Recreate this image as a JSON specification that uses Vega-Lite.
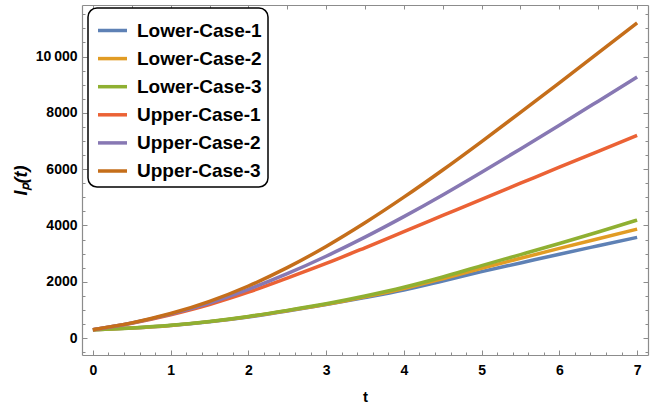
{
  "$schema": "https://vega.github.io/schema/vega-lite/v6.json",
  "autosize": "none",
  "width": 566,
  "height": 350,
  "padding": {"left": 82, "top": 5, "right": 13, "bottom": 53},
  "background": "white",
  "config": {
    "view": {"stroke": null},
    "font": "Liberation Sans",
    "axis": {
      "labelFont": "Liberation Sans",
      "labelFontWeight": "bold",
      "labelFontSize": 14,
      "labelColor": "black",
      "titleFont": "Liberation Sans",
      "titleFontWeight": "bold",
      "titleFontSize": 15,
      "titleColor": "black",
      "domainColor": "#8c8c8c",
      "domainWidth": 1.2,
      "tickColor": "#8c8c8c",
      "tickWidth": 1,
      "grid": false
    }
  },
  "data": {"values": [
    {"t":0,"s":"Lower-Case-1","v":300},{"t":0.5,"s":"Lower-Case-1","v":360},{"t":1,"s":"Lower-Case-1","v":450},{"t":1.5,"s":"Lower-Case-1","v":580},{"t":2,"s":"Lower-Case-1","v":750},{"t":2.5,"s":"Lower-Case-1","v":960},{"t":3,"s":"Lower-Case-1","v":1190},{"t":3.5,"s":"Lower-Case-1","v":1440},{"t":4,"s":"Lower-Case-1","v":1710},{"t":4.5,"s":"Lower-Case-1","v":2030},{"t":5,"s":"Lower-Case-1","v":2360},{"t":5.5,"s":"Lower-Case-1","v":2670},{"t":6,"s":"Lower-Case-1","v":2980},{"t":6.5,"s":"Lower-Case-1","v":3280},{"t":7,"s":"Lower-Case-1","v":3577},
    {"t":0,"s":"Lower-Case-2","v":300},{"t":0.5,"s":"Lower-Case-2","v":360},{"t":1,"s":"Lower-Case-2","v":450},{"t":1.5,"s":"Lower-Case-2","v":585},{"t":2,"s":"Lower-Case-2","v":760},{"t":2.5,"s":"Lower-Case-2","v":975},{"t":3,"s":"Lower-Case-2","v":1200},{"t":3.5,"s":"Lower-Case-2","v":1465},{"t":4,"s":"Lower-Case-2","v":1760},{"t":4.5,"s":"Lower-Case-2","v":2110},{"t":5,"s":"Lower-Case-2","v":2480},{"t":5.5,"s":"Lower-Case-2","v":2835},{"t":6,"s":"Lower-Case-2","v":3185},{"t":6.5,"s":"Lower-Case-2","v":3530},{"t":7,"s":"Lower-Case-2","v":3872},
    {"t":0,"s":"Lower-Case-3","v":300},{"t":0.5,"s":"Lower-Case-3","v":362},{"t":1,"s":"Lower-Case-3","v":455},{"t":1.5,"s":"Lower-Case-3","v":592},{"t":2,"s":"Lower-Case-3","v":770},{"t":2.5,"s":"Lower-Case-3","v":985},{"t":3,"s":"Lower-Case-3","v":1220},{"t":3.5,"s":"Lower-Case-3","v":1495},{"t":4,"s":"Lower-Case-3","v":1805},{"t":4.5,"s":"Lower-Case-3","v":2170},{"t":5,"s":"Lower-Case-3","v":2575},{"t":5.5,"s":"Lower-Case-3","v":2965},{"t":6,"s":"Lower-Case-3","v":3360},{"t":6.5,"s":"Lower-Case-3","v":3770},{"t":7,"s":"Lower-Case-3","v":4192},
    {"t":0,"s":"Upper-Case-1","v":300},{"t":0.5,"s":"Upper-Case-1","v":530},{"t":1,"s":"Upper-Case-1","v":830},{"t":1.5,"s":"Upper-Case-1","v":1192},{"t":2,"s":"Upper-Case-1","v":1630},{"t":2.5,"s":"Upper-Case-1","v":2130},{"t":3,"s":"Upper-Case-1","v":2650},{"t":3.5,"s":"Upper-Case-1","v":3208},{"t":4,"s":"Upper-Case-1","v":3780},{"t":4.5,"s":"Upper-Case-1","v":4355},{"t":5,"s":"Upper-Case-1","v":4930},{"t":5.5,"s":"Upper-Case-1","v":5500},{"t":6,"s":"Upper-Case-1","v":6070},{"t":6.5,"s":"Upper-Case-1","v":6635},{"t":7,"s":"Upper-Case-1","v":7200},
    {"t":0,"s":"Upper-Case-2","v":300},{"t":0.5,"s":"Upper-Case-2","v":537},{"t":1,"s":"Upper-Case-2","v":850},{"t":1.5,"s":"Upper-Case-2","v":1245},{"t":2,"s":"Upper-Case-2","v":1730},{"t":2.5,"s":"Upper-Case-2","v":2287},{"t":3,"s":"Upper-Case-2","v":2907},{"t":3.5,"s":"Upper-Case-2","v":3585},{"t":4,"s":"Upper-Case-2","v":4313},{"t":4.5,"s":"Upper-Case-2","v":5083},{"t":5,"s":"Upper-Case-2","v":5890},{"t":5.5,"s":"Upper-Case-2","v":6720},{"t":6,"s":"Upper-Case-2","v":7562},{"t":6.5,"s":"Upper-Case-2","v":8415},{"t":7,"s":"Upper-Case-2","v":9272},
    {"t":0,"s":"Upper-Case-3","v":300},{"t":0.5,"s":"Upper-Case-3","v":542},{"t":1,"s":"Upper-Case-3","v":872},{"t":1.5,"s":"Upper-Case-3","v":1305},{"t":2,"s":"Upper-Case-3","v":1850},{"t":2.5,"s":"Upper-Case-3","v":2502},{"t":3,"s":"Upper-Case-3","v":3255},{"t":3.5,"s":"Upper-Case-3","v":4095},{"t":4,"s":"Upper-Case-3","v":5005},{"t":4.5,"s":"Upper-Case-3","v":5970},{"t":5,"s":"Upper-Case-3","v":6980},{"t":5.5,"s":"Upper-Case-3","v":8017},{"t":6,"s":"Upper-Case-3","v":9067},{"t":6.5,"s":"Upper-Case-3","v":10127},{"t":7,"s":"Upper-Case-3","v":11195}
  ]},
  "resolve": {"axis": {"x": "independent", "y": "independent"}},
  "layer": [
    {
      "mark": {"type": "line", "strokeWidth": 3.5, "interpolate": "monotone"},
      "encoding": {
        "x": {"field": "t", "type": "quantitative",
          "scale": {"domain": [-0.14, 7.14], "nice": false, "zero": false},
          "axis": {"orient": "bottom", "values": [0,1,2,3,4,5,6,7], "tickSize": -5, "labelPadding": 13, "title": "t", "titlePadding": 12, "labelFlush": false}},
        "y": {"field": "v", "type": "quantitative",
          "scale": {"domain": [-600, 11830], "nice": false, "zero": false},
          "axis": {"orient": "left", "values": [0,2000,4000,6000,8000,10000], "tickSize": -5, "labelPadding": 10, "title": "Iₚ(t)", "titleFontSize": 18, "titleFontStyle": "italic", "titlePadding": 5, "labelExpr": "datum.value == 10000 ? '10\u2009000' : datum.label", "format": "d", "labelFlush": false}},
        "color": {"field": "s", "type": "nominal",
          "scale": {"domain": ["Lower-Case-1","Lower-Case-2","Lower-Case-3","Upper-Case-1","Upper-Case-2","Upper-Case-3"],
                    "range": ["#5E81B5","#E19C24","#8FB032","#EB6235","#8778B3","#C56E1A"]},
          "legend": {"orient": "none", "legendX": 6, "legendY": 3, "title": null,
            "symbolType": "stroke", "symbolSize": 841, "symbolStrokeWidth": 3.5, "symbolOffset": 2,
            "labelFont": "Liberation Sans", "labelFontWeight": "bold", "labelFontSize": 19, "labelColor": "black", "labelOffset": 8,
            "rowPadding": 1.1, "padding": 6, "strokeColor": "black", "cornerRadius": 9, "fillColor": "white",
            "encode": {"legend": {"update": {"strokeWidth": {"value": 1.5}}}}}}
      }
    },
    {
      "mark": {"type": "line", "strokeOpacity": 0},
      "encoding": {
        "x": {"field": "t", "type": "quantitative",
          "axis": {"orient": "bottom", "values": [0.2,0.4,0.6,0.8,1.2,1.4,1.6,1.8,2.2,2.4,2.6,2.8,3.2,3.4,3.6,3.8,4.2,4.4,4.6,4.8,5.2,5.4,5.6,5.8,6.2,6.4,6.6,6.8,7.2], "tickSize": -3, "labels": false, "domain": false, "title": null}},
        "y": {"field": "v", "type": "quantitative",
          "axis": {"orient": "left", "values": [-500,500,1000,1500,2500,3000,3500,4500,5000,5500,6500,7000,7500,8500,9000,9500,10500,11000,11500], "tickSize": -3, "labels": false, "domain": false, "title": null}},
        "detail": {"field": "s"}
      }
    },
    {
      "mark": {"type": "line", "strokeOpacity": 0},
      "encoding": {
        "x": {"field": "t", "type": "quantitative",
          "axis": {"orient": "top", "values": [0,0.5,1,1.5,2,2.5,3,3.5,4,4.5,5,5.5,6,6.5,7], "tickSize": -4, "labels": false, "domain": true, "title": null}},
        "y": {"field": "v", "type": "quantitative",
          "axis": {"orient": "right", "values": [0,2000,4000,6000,8000,10000], "tickSize": -5, "labels": false, "domain": true, "title": null}},
        "detail": {"field": "s"}
      }
    },
    {
      "mark": {"type": "line", "strokeOpacity": 0},
      "encoding": {
        "x": {"field": "t", "type": "quantitative", "axis": null},
        "y": {"field": "v", "type": "quantitative",
          "axis": {"orient": "right", "values": [-500,500,1000,1500,2500,3000,3500,4500,5000,5500,6500,7000,7500,8500,9000,9500,10500,11000,11500], "tickSize": -3, "labels": false, "domain": false, "title": null}},
        "detail": {"field": "s"}
      }
    }
  ]
}
